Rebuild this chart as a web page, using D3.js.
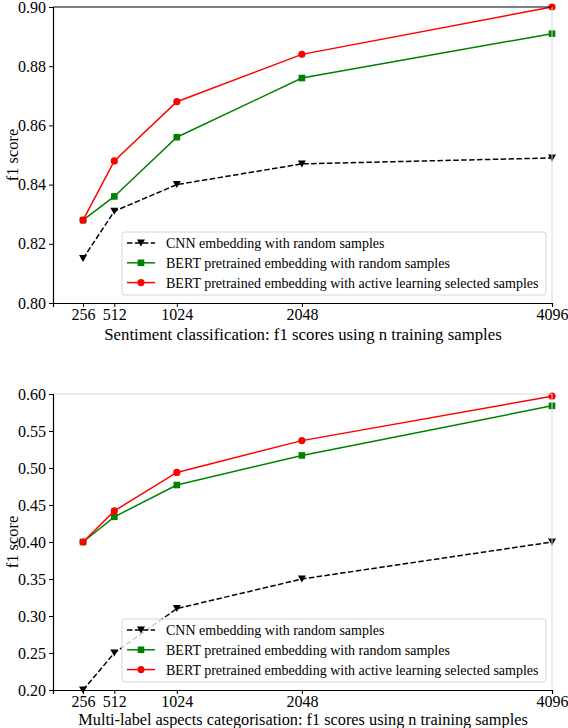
<!DOCTYPE html>
<html>
<head>
<meta charset="utf-8">
<script src="https://cdn.jsdelivr.net/npm/d3@7"></script>
<style>
  body { margin: 0; background: #fff; }
  svg text { font-family: "Liberation Serif", "DejaVu Serif", serif; }
</style>
</head>
<body>
<svg id="chart"></svg>
<script>
// training set sizes on the x axis
const samples = [256, 512, 1024, 2048, 4096];
const xTicks = [256, 512, 1024, 2048, 4096];

// sentiment classification panel
const sentCnn = [0.815, 0.831, 0.840, 0.847, 0.849];
const sentBert = [0.828, 0.836, 0.856, 0.876, 0.891];
const sentActive = [0.828, 0.848, 0.868, 0.884, 0.900];
const sentTicks = [0.80, 0.82, 0.84, 0.86, 0.88, 0.90];

// multi-label aspects panel
const aspCnn = [0.200, 0.250, 0.310, 0.350, 0.400];
const aspBert = [0.400, 0.434, 0.477, 0.517, 0.584];
const aspActive = [0.400, 0.442, 0.494, 0.537, 0.597];
const aspTicks = [0.20, 0.25, 0.30, 0.35, 0.40, 0.45, 0.50, 0.55, 0.60];

const seriesNames = [
  "CNN embedding with random samples",
  "BERT pretrained embedding with random samples",
  "BERT pretrained embedding with active learning selected samples"
];
const seriesColors = ["black", "green", "red"];
const seriesMarkers = ["triangle", "square", "circle"];

const W = 568, H = 728;
const serif = "'Liberation Serif', 'DejaVu Serif', serif";
const svg = d3.select("#chart").attr("width", W).attr("height", H);

function marker(g, type, color, cx, cy) {
  if (type === "triangle") {
    g.append("path")
      .attr("d", `M${cx - 4},${cy - 3.5}L${cx + 4},${cy - 3.5}L${cx},${cy + 3.5}Z`)
      .attr("fill", color);
  } else if (type === "square") {
    g.append("rect")
      .attr("x", cx - 3.3).attr("y", cy - 3.3)
      .attr("width", 6.6).attr("height", 6.6)
      .attr("fill", color);
  } else {
    g.append("circle").attr("cx", cx).attr("cy", cy).attr("r", 3.6).attr("fill", color);
  }
}

function drawPanel(cfg) {
  const { top, bottom, yDomain, yTicks, series, xlabel, labelGap, darkTop } = cfg;
  const left = 53, right = 552;
  const g = svg.append("g");

  const x = d3.scaleLinear().domain([10, 4096]).range([left, right]);
  const y = d3.scaleLinear().domain(yDomain).range([bottom, top]);

  // lines and markers
  series.forEach((vals, i) => {
    const line = d3.line()
      .x((d, j) => x(samples[j]))
      .y(d => y(d));
    g.append("path")
      .datum(vals)
      .attr("d", line)
      .attr("fill", "none")
      .attr("stroke", seriesColors[i])
      .attr("stroke-width", 1.5)
      .attr("stroke-dasharray", i === 0 ? "5.5,2.4" : null);
    vals.forEach((v, j) => marker(g, seriesMarkers[i], seriesColors[i], x(samples[j]), y(v)));
  });

  // frame: light top/right, dark left/bottom
  g.append("line").attr("x1", left).attr("x2", right).attr("y1", top).attr("y2", top)
    .attr("stroke", darkTop ? "black" : "#d8d8d8").attr("stroke-width", 1);
  g.append("line").attr("x1", right).attr("x2", right).attr("y1", top).attr("y2", bottom)
    .attr("stroke", "#d8d8d8").attr("stroke-width", 1);

  const yAxis = g.append("g")
    .attr("transform", `translate(${left},0)`)
    .call(d3.axisLeft(y).tickValues(yTicks).tickFormat(d3.format(".2f")).tickSize(4).tickPadding(3));
  const xAxis = g.append("g")
    .attr("transform", `translate(0,${bottom})`)
    .call(d3.axisBottom(x).tickValues(xTicks).tickFormat(d3.format("d")).tickSize(4).tickPadding(1.5));
  [yAxis, xAxis].forEach(a => {
    a.attr("font-family", serif).attr("font-size", 16);
    a.select(".domain").attr("stroke", "black").attr("stroke-width", 1.2);
    a.selectAll(".tick line").attr("stroke", "black");
    a.selectAll(".tick text")
      .attr("fill", "black")
      .style("font-family", serif)
      .style("font-size", "16px");
  });

  g.append("text")
    .attr("transform", `translate(12,${(top + bottom) / 2}) rotate(-90)`)
    .attr("text-anchor", "middle")
    .attr("dy", "0.35em")
    .style("font-family", serif)
    .style("font-size", "16.5px")
    .text("f1 score");

  g.append("text")
    .attr("x", 303)
    .attr("y", bottom + labelGap)
    .attr("text-anchor", "middle")
    .style("font-family", serif)
    .style("font-size", cfg.labelSize)
    .text(xlabel);

  // legend
  const lg = g.append("g").attr("transform", `translate(122,${bottom - 71})`);
  lg.append("rect")
    .attr("width", 424).attr("height", 63)
    .attr("rx", 3)
    .attr("fill", "white").attr("fill-opacity", 0.8)
    .attr("stroke", "#d6d6d6");
  seriesNames.forEach((name, i) => {
    const ry = 11 + i * 19.8;
    lg.append("line")
      .attr("x1", 5).attr("x2", 33).attr("y1", ry).attr("y2", ry)
      .attr("stroke", seriesColors[i]).attr("stroke-width", 1.5)
      .attr("stroke-dasharray", i === 0 ? "5.5,2.4" : null);
    marker(lg, seriesMarkers[i], seriesColors[i], 19, ry);
    lg.append("text")
      .attr("x", 44).attr("y", ry)
      .attr("dy", "0.35em")
      .style("font-family", serif)
      .style("font-size", "14px")
      .text(name);
  });
}

drawPanel({
  top: 7, bottom: 303,
  yDomain: [0.80, 0.90], yTicks: sentTicks,
  series: [sentCnn, sentBert, sentActive],
  xlabel: "Sentiment classification: f1 scores using n training samples",
  labelGap: 37, labelSize: "16.8px",
  darkTop: true
});

drawPanel({
  top: 394, bottom: 690,
  yDomain: [0.20, 0.60], yTicks: aspTicks,
  series: [aspCnn, aspBert, aspActive],
  xlabel: "Multi-label aspects categorisation: f1 scores using n training samples",
  labelGap: 34.5, labelSize: "16.3px",
  darkTop: false
});
</script>
</body>
</html>
